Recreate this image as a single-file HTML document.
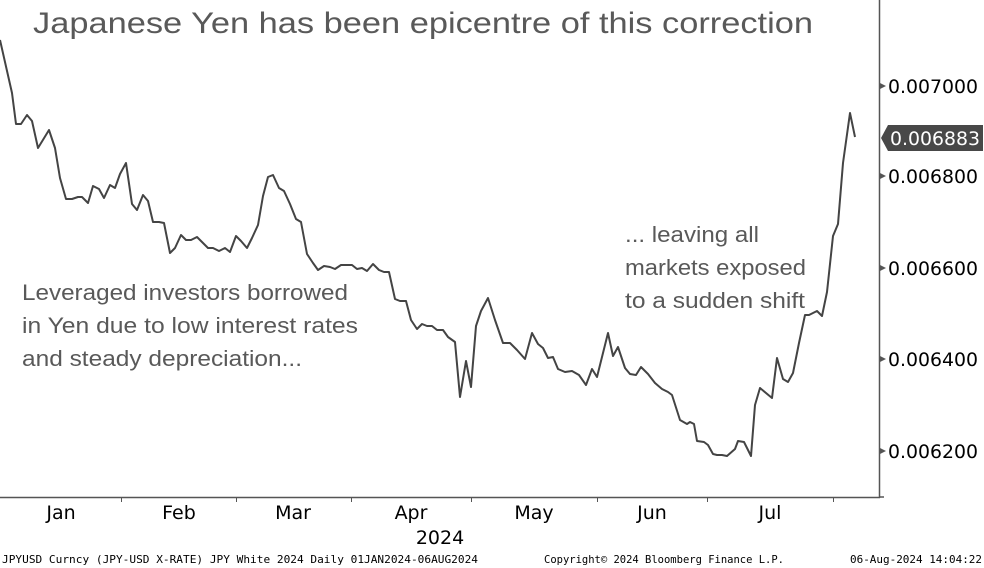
<!DOCTYPE html>
<html><head><meta charset="utf-8"><style>
html,body{margin:0;padding:0;background:#fff;width:984px;height:568px;overflow:hidden}
svg{display:block}
.t{font-family:"Liberation Sans",sans-serif;fill:#595959}
.ax{font-family:"DejaVu Sans",sans-serif;fill:#000}
.ft{font-family:"DejaVu Sans Mono","Liberation Mono",monospace;fill:#000;font-size:11px}
</style></head><body>
<svg width="984" height="568" viewBox="0 0 984 568" xmlns="http://www.w3.org/2000/svg">
<rect width="984" height="568" fill="#fff"/>
<text class="t" x="33" y="33" font-size="30" textLength="780" lengthAdjust="spacingAndGlyphs">Japanese Yen has been epicentre of this correction</text>
<g class="t" font-size="22">
<text x="22" y="300" textLength="326" lengthAdjust="spacingAndGlyphs">Leveraged investors borrowed</text>
<text x="22" y="333" textLength="336" lengthAdjust="spacingAndGlyphs">in Yen due to low interest rates</text>
<text x="22" y="366" textLength="280" lengthAdjust="spacingAndGlyphs">and steady depreciation...</text>
<text x="625" y="242" textLength="134" lengthAdjust="spacingAndGlyphs">... leaving all</text>
<text x="625" y="275" textLength="181" lengthAdjust="spacingAndGlyphs">markets exposed</text>
<text x="625" y="308" textLength="180" lengthAdjust="spacingAndGlyphs">to a sudden shift</text>
</g>
<polyline fill="none" stroke="#444" stroke-width="2" stroke-linejoin="round" points="0,40 12,93 16,124 21,124 27,115 32,121 38,148 49,130 55,148 60,178 66,199 72,199 78,197 82,197 88,203 93,186 99,189 104,198 110,185 115,188 120,174 126,163 132,204 137,210 143,195 148,201 153,222 159,222 164,223 170,253 175,248 181,235 186,240 191,240 197,237 202,242 208,248 213,248 219,251 225,248 230,252 236,236 241,241 247,248 252,238 258,225 263,196 268,177 273,175 279,188 284,191 290,204 296,219 301,222 307,254 313,263 318,270 324,266 330,267 335,269 341,265 346,265 352,265 357,269 362,268 367,271 373,264 379,270 384,272 389,272 395,299 400,301 406,301 411,320 417,329 422,324 427,326 432,326 437,330 443,330 448,337 455,342 460,397 466,361 471,387 476,326 481,311 488,298 495,320 503,343 510,343 517,350 525,359 532,333 538,344 543,348 548,358 553,357 558,369 565,372 572,371 579,375 586,385 592,369 597,377 608,333 613,356 618,347 625,368 630,374 636,375 641,367 648,374 655,383 662,389 668,392 672,395 680,420 687,424 690,422 694,424 697,441 704,442 708,445 713,454 717,455 722,455 727,456 735,449 738,441 744,442 748,450 751,456 755,405 760,388 772,398 777,358 783,379 788,382 793,373 799,343 805,315 809,315 817,311 822,316 827,292 833,236 838,224 843,163 850,113 855,137"/>
<g stroke="#555" stroke-width="1.5" fill="none">
<line x1="0" y1="497.5" x2="880" y2="497.5"/>
<line x1="879.5" y1="0" x2="879.5" y2="498"/>
<line x1="880" y1="497" x2="884" y2="497"/>
</g>
<g stroke="#555" stroke-width="1">
<line x1="121.5" y1="498" x2="121.5" y2="502"/>
<line x1="236.5" y1="498" x2="236.5" y2="502"/>
<line x1="351.5" y1="498" x2="351.5" y2="502"/>
<line x1="471.5" y1="498" x2="471.5" y2="502"/>
<line x1="597.5" y1="498" x2="597.5" y2="502"/>
<line x1="707.5" y1="498" x2="707.5" y2="502"/>
<line x1="833.5" y1="498" x2="833.5" y2="502"/>
</g>
<g fill="#555">
<polygon points="880,83 886,86 880,89"/>
<polygon points="880,173 886,176 880,179"/>
<polygon points="880,265 886,268 880,271"/>
<polygon points="880,356 886,359 880,362"/>
<polygon points="880,448 886,451 880,454"/>
</g>
<g class="ax" font-size="19">
<text x="888" y="93" textLength="90" lengthAdjust="spacingAndGlyphs">0.007000</text>
<text x="888" y="183" textLength="90" lengthAdjust="spacingAndGlyphs">0.006800</text>
<text x="888" y="275" textLength="90" lengthAdjust="spacingAndGlyphs">0.006600</text>
<text x="888" y="366" textLength="90" lengthAdjust="spacingAndGlyphs">0.006400</text>
<text x="888" y="458" textLength="90" lengthAdjust="spacingAndGlyphs">0.006200</text>
</g>
<polygon points="881,138 888,125 983,125 983,151 888,151" fill="#484848"/>
<text class="ax" x="890" y="145" font-size="19" textLength="90" lengthAdjust="spacingAndGlyphs" style="fill:#fff">0.006883</text>
<g class="ax" font-size="19" text-anchor="middle">
<text x="61" y="519">Jan</text>
<text x="179" y="519">Feb</text>
<text x="293" y="519">Mar</text>
<text x="411" y="519">Apr</text>
<text x="534" y="519">May</text>
<text x="652" y="519">Jun</text>
<text x="770" y="519">Jul</text>
<text x="440" y="544">2024</text>
</g>
<text class="ft" x="2" y="563" textLength="476" lengthAdjust="spacingAndGlyphs">JPYUSD Curncy (JPY-USD X-RATE) JPY White 2024  Daily 01JAN2024-06AUG2024</text>
<text class="ft" x="544" y="563" textLength="240" lengthAdjust="spacingAndGlyphs">Copyright© 2024 Bloomberg Finance L.P.</text>
<text class="ft" x="850" y="563" textLength="132" lengthAdjust="spacingAndGlyphs">06-Aug-2024 14:04:22</text>
</svg>
</body></html>
